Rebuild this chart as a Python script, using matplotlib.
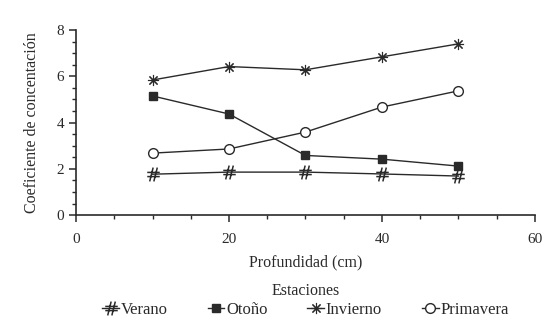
import matplotlib
matplotlib.use("Agg")
import matplotlib.pyplot as plt
from matplotlib.path import Path
from matplotlib.ticker import MultipleLocator

plt.rcParams['font.family'] = ['Liberation Serif', 'DejaVu Serif']

profundidad = [10, 20, 30, 40, 50]
verano = [1.77, 1.86, 1.86, 1.78, 1.69]
otono = [5.15, 4.37, 2.58, 2.42, 2.12]
invierno = [5.84, 6.42, 6.28, 6.84, 7.40]
primavera = [2.68, 2.86, 3.59, 4.67, 5.37]

# slanted hash sign used as the marker for the summer series
hash_marker = Path(
    [(-0.55, -1.0), (-0.05, 1.0), (0.05, -1.0), (0.55, 1.0),
     (-0.9, 0.3), (0.9, 0.3), (-0.9, -0.3), (0.9, -0.3)],
    [Path.MOVETO, Path.LINETO, Path.MOVETO, Path.LINETO,
     Path.MOVETO, Path.LINETO, Path.MOVETO, Path.LINETO])

fig = plt.figure(figsize=(5.44, 3.26), dpi=100)
ax = fig.add_axes([0.14, 0.34, 0.843, 0.568])

ink = '#2a2a2a'
ax.plot(profundidad, verano, color=ink, lw=1.0, marker=hash_marker, ms=10,
        mew=1.1, label='Verano')
ax.plot(profundidad, otono, color=ink, lw=1.0, marker='s', ms=6,
        mfc=ink, label='Otoño')
ax.plot(profundidad, invierno, color=ink, lw=1.0, marker=(8, 2, 0), ms=8,
        mew=0.8, label='Invierno')
ax.plot(profundidad, primavera, color=ink, lw=1.0, marker='o', ms=7,
        mfc='white', mew=1.0, label='Primavera')

ax.set_xlim(0, 60)
ax.set_ylim(0, 8)
ax.xaxis.set_major_locator(MultipleLocator(20))
ax.xaxis.set_minor_locator(MultipleLocator(5))
ax.yaxis.set_major_locator(MultipleLocator(2))
ax.yaxis.set_minor_locator(MultipleLocator(0.5))
for s in ('top', 'right'):
    ax.spines[s].set_visible(False)
for s in ('left', 'bottom'):
    ax.spines[s].set_color(ink)
    ax.spines[s].set_linewidth(1.2)
ax.tick_params(which='major', length=5, width=1.1, color=ink, labelsize=11,
               labelcolor=ink)
ax.tick_params(which='minor', length=3, width=1.0, color=ink)
ax.tick_params(axis='x', pad=8)

ax.set_xlabel('Profundidad (cm)', fontsize=11.5, color=ink, labelpad=6)
ax.set_ylabel('Coeficiente de concentación', fontsize=11.5, color=ink,
              labelpad=12)

leg = ax.legend(title='Estaciones', loc='upper center',
                bbox_to_anchor=(0.5, -0.33), ncol=4, frameon=False,
                fontsize=12, title_fontsize=11.5, handlelength=1.0,
                handletextpad=0.1, columnspacing=2.4, borderaxespad=0,
                labelspacing=0.2)
for t in leg.get_texts():
    t.set_color(ink)
leg.get_title().set_color(ink)

fig.savefig('out.png', dpi=100, facecolor='white')
